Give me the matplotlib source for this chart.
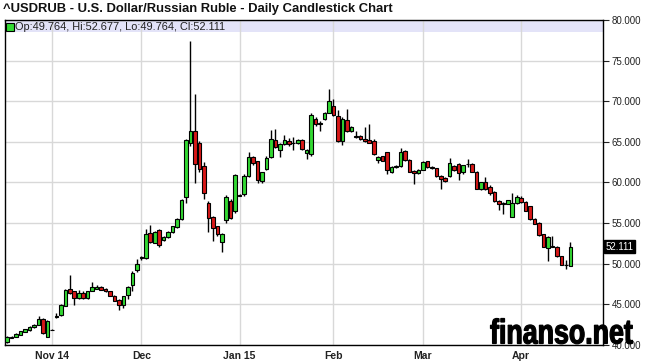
import pandas as pd
import matplotlib
matplotlib.use('Agg')
import matplotlib.pyplot as plt
from matplotlib.patches import Rectangle, PathPatch
from matplotlib.transforms import blended_transform_factory, Affine2D
from matplotlib.textpath import TextPath
from matplotlib.font_manager import FontProperties

plt.rcParams['font.family'] = ['Liberation Sans', 'DejaVu Sans']

# trading days (forex calendar, no Dec 25 / Jan 1)
dates = [d for d in pd.bdate_range('2014-10-20', '2015-04-16')
         if d.strftime('%m-%d') not in ('12-25', '01-01')]

opens = [40.39, 40.90, 41.00, 41.25, 41.62, 41.82, 42.19, 42.47, 43.21, 41.00,
         41.90, 43.50, 43.66, 44.85, 46.89, 46.60, 45.79, 46.36, 45.79, 46.64,
         46.95, 47.14, 46.89, 46.64, 46.07, 45.58, 44.89, 46.20, 47.42, 49.26,
         50.70, 50.70, 53.80, 52.60, 54.17, 52.93, 53.26, 53.88, 54.50, 55.54,
         58.22, 64.83, 66.32, 64.92, 62.02, 57.48, 55.74, 54.59, 52.64, 55.41,
         57.73, 56.49, 58.45, 58.55, 60.84, 63.09, 62.60, 60.22, 61.60, 63.13,
         65.17, 63.95, 64.68, 65.13, 64.85, 64.85, 65.17, 63.66, 63.46, 67.83,
         67.20, 67.79, 68.61, 69.43, 68.20, 65.09, 67.75, 66.36, 65.70, 65.70,
         65.40, 65.20, 65.10, 62.80, 63.20, 63.70, 61.30, 61.90, 62.00, 63.85,
         62.80, 61.45, 61.15, 61.55, 62.65, 61.95, 61.75, 60.85, 60.60, 60.80,
         62.05, 62.30, 61.25, 62.30, 62.30, 61.35, 59.25, 60.00, 59.40, 58.80,
         57.75, 57.40, 57.35, 55.75, 57.50, 58.10, 57.60, 57.05, 55.50, 55.00,
         53.60, 51.90, 52.15, 52.10, 50.95, 49.85, 49.764]
highs = [41.05, 41.10, 41.45, 41.78, 42.00, 42.30, 42.60, 43.62, 43.30, 43.10,
         41.92, 43.95, 45.05, 46.85, 48.65, 46.70, 46.80, 46.60, 46.70, 47.71,
         47.40, 47.30, 47.00, 46.70, 46.15, 45.60, 46.00, 47.20, 49.10, 50.55,
         50.90, 54.30, 54.80, 54.00, 54.30, 53.40, 54.00, 54.70, 55.60, 58.00,
         65.40, 77.40, 70.90, 65.10, 62.56, 57.73, 55.90, 54.70, 53.80, 58.40,
         58.00, 61.00, 58.55, 61.00, 63.78, 63.30, 62.70, 61.30, 63.20, 66.52,
         66.56, 64.80, 65.83, 65.50, 65.62, 65.40, 65.30, 64.10, 68.50, 68.08,
         67.60, 68.70, 71.55, 70.30, 68.90, 68.00, 69.00, 66.90, 66.30, 65.80,
         66.85, 67.26, 65.30, 63.20, 63.30, 63.80, 62.00, 62.10, 64.29, 64.00,
         62.90, 61.50, 61.60, 62.60, 62.70, 62.00, 61.80, 60.90, 60.70, 63.00,
         62.20, 62.40, 62.20, 62.90, 62.40, 61.40, 60.10, 60.70, 59.70, 58.90,
         57.85, 57.60, 57.90, 58.70, 58.40, 58.30, 57.70, 57.15, 55.60, 55.10,
         53.70, 53.40, 53.40, 52.20, 51.00, 50.45, 52.677]
lows = [40.30, 40.85, 40.95, 41.20, 41.58, 41.78, 42.15, 42.40, 41.40, 40.95,
        41.80, 43.33, 43.60, 44.80, 46.30, 44.97, 45.70, 45.60, 45.70, 46.60,
        46.90, 46.75, 46.55, 46.00, 45.40, 44.27, 44.50, 45.60, 46.70, 49.00,
        50.40, 50.60, 52.50, 52.50, 52.02, 52.80, 53.20, 53.80, 54.40, 55.40,
        57.48, 64.50, 59.88, 61.30, 58.02, 53.93, 52.77, 53.40, 51.40, 55.00,
        55.50, 56.30, 58.30, 58.30, 60.70, 62.20, 59.90, 59.90, 61.50, 63.00,
        64.20, 63.17, 64.60, 64.50, 64.00, 64.70, 64.00, 62.88, 63.30, 67.00,
        66.30, 67.70, 68.50, 68.20, 65.00, 64.60, 66.20, 66.20, 65.50, 65.20,
        65.00, 64.80, 63.40, 62.40, 62.60, 61.05, 61.20, 61.80, 61.90, 62.70,
        61.30, 59.79, 61.00, 61.50, 61.80, 61.70, 60.70, 59.24, 60.10, 60.70,
        61.40, 60.30, 61.10, 61.90, 61.30, 59.20, 59.10, 59.10, 58.50, 57.60,
        56.65, 56.10, 57.30, 55.70, 57.40, 57.50, 56.45, 55.40, 54.85, 53.45,
        52.00, 50.33, 52.00, 50.85, 49.80, 49.30, 49.764]
closes = [40.96, 41.00, 41.37, 41.70, 41.94, 42.23, 42.52, 43.21, 41.49, 43.01,
          41.85, 43.58, 44.97, 46.76, 46.40, 45.79, 46.40, 45.79, 46.64, 47.14,
          47.14, 46.81, 46.60, 46.07, 45.46, 44.97, 45.99, 47.14, 48.86, 49.96,
          50.80, 53.60, 52.64, 53.93, 52.36, 53.26, 53.93, 54.59, 55.54, 57.89,
          65.25, 66.32, 62.23, 61.61, 58.72, 55.66, 54.42, 53.60, 53.68, 58.22,
          55.66, 60.87, 58.35, 60.85, 63.09, 62.35, 60.30, 61.25, 63.05, 65.34,
          64.36, 64.72, 65.17, 64.68, 64.92, 65.17, 64.07, 63.99, 68.36, 67.14,
          67.30, 68.61, 70.00, 68.36, 65.13, 67.87, 66.32, 66.77, 65.60, 65.30,
          65.15, 64.90, 63.50, 63.15, 62.70, 61.50, 61.90, 62.00, 63.70, 62.80,
          61.35, 61.15, 61.55, 62.50, 61.90, 61.80, 60.80, 60.40, 60.20, 62.40,
          61.50, 61.15, 62.10, 62.25, 61.35, 59.25, 60.00, 59.20, 58.70, 57.70,
          57.35, 57.50, 57.85, 57.50, 58.20, 57.60, 56.55, 55.50, 54.95, 53.55,
          52.10, 53.30, 52.05, 50.95, 49.90, 49.80, 52.111]

month_labels = ['Nov 14', 'Dec', 'Jan 15', 'Feb', 'Mar', 'Apr']
y_ticks = [40, 45, 50, 55, 60, 65, 70, 75, 80]

title = '^USDRUB - U.S. Dollar/Russian Ruble - Daily Candlestick Chart'
info = 'Op:49.764, Hi:52.677, Lo:49.764, Cl:52.111'

green = '#33d933'
red = '#d81818'

fig = plt.figure(figsize=(6.47, 3.64), dpi=100)
fig.patch.set_facecolor('white')
ax = fig.add_axes([5/647, 1-345/364, 598/647, 325/364])

# first trading day of each month after October
month_pos = []
seen = set()
for i, d in enumerate(dates):
    key = (d.year, d.month)
    if key not in seen:
        seen.add(key)
        if i > 0:
            month_pos.append(i)

w = 0.8
for i in range(len(dates)):
    o, h, l, c = opens[i], highs[i], lows[i], closes[i]
    col = green if c >= o else red
    ax.vlines(i, l, h, color='black', lw=1, zorder=2)
    ax.add_patch(Rectangle((i - w/2, min(o, c)), w, max(abs(c - o), 0.04),
                           facecolor=col, edgecolor='black', lw=0.8, zorder=3))

ax.set_xlim(-0.5, 133.3)
ax.set_ylim(40, 80)
ax.axhspan(78.5, 80, color='#e3e3f8', zorder=0.3, lw=0)
ax.set_axisbelow(True)
ax.grid(True, color='#d8d8d8', lw=1)

ax.yaxis.tick_right()
ax.set_yticks(y_ticks)
ax.set_yticklabels(['%.3f' % v for v in y_ticks])
ax.tick_params(axis='y', direction='out', length=4, width=0.8, labelsize=7,
               pad=2, colors='#222222')
ax.set_xticks(month_pos)
ax.set_xticklabels(month_labels, fontweight='bold', fontsize=7.5, color='#222222')
ax.tick_params(axis='x', length=0, pad=4)
for s in ax.spines.values():
    s.set_color('black')
    s.set_linewidth(1)

# legend line in the band
ax.plot([0.0085], [0.979], marker='s', ms=6, mfc=green, mec='black', mew=0.8,
        transform=ax.transAxes, clip_on=False, zorder=5)
ax.text(0.0175, 0.979, info, transform=ax.transAxes, fontsize=7.9,
        va='center', ha='left', color='#222222', zorder=5)

# last price box on the right axis
tr = blended_transform_factory(ax.transAxes, ax.transData)
ax.text(1.004, closes[-1], '%.3f' % closes[-1], transform=tr, fontsize=7,
        color='white', va='center', ha='left', zorder=6,
        bbox=dict(boxstyle='square,pad=0.15', fc='black', ec='black'))

fig.text(3/647, 1-9/364, title, fontsize=9.4, fontweight='bold',
         va='center', ha='left', color='#111111')

# watermark, squeezed to the reference's narrow heavy lettering
tp = TextPath((0, 0), 'finanso.net', size=1,
              prop=FontProperties(family='Liberation Sans', weight='bold'))
bb = tp.get_extents()
sx = 142 / bb.width
sy = 25 / bb.y1
wm = Affine2D().translate(-bb.x0, 0).scale(sx, sy).translate(490.5, 364 - 343.5)
fig.add_artist(PathPatch(tp, transform=wm, fc='black', ec='black', lw=0.9,
                         zorder=10))

fig.savefig('out.png', dpi=100)
